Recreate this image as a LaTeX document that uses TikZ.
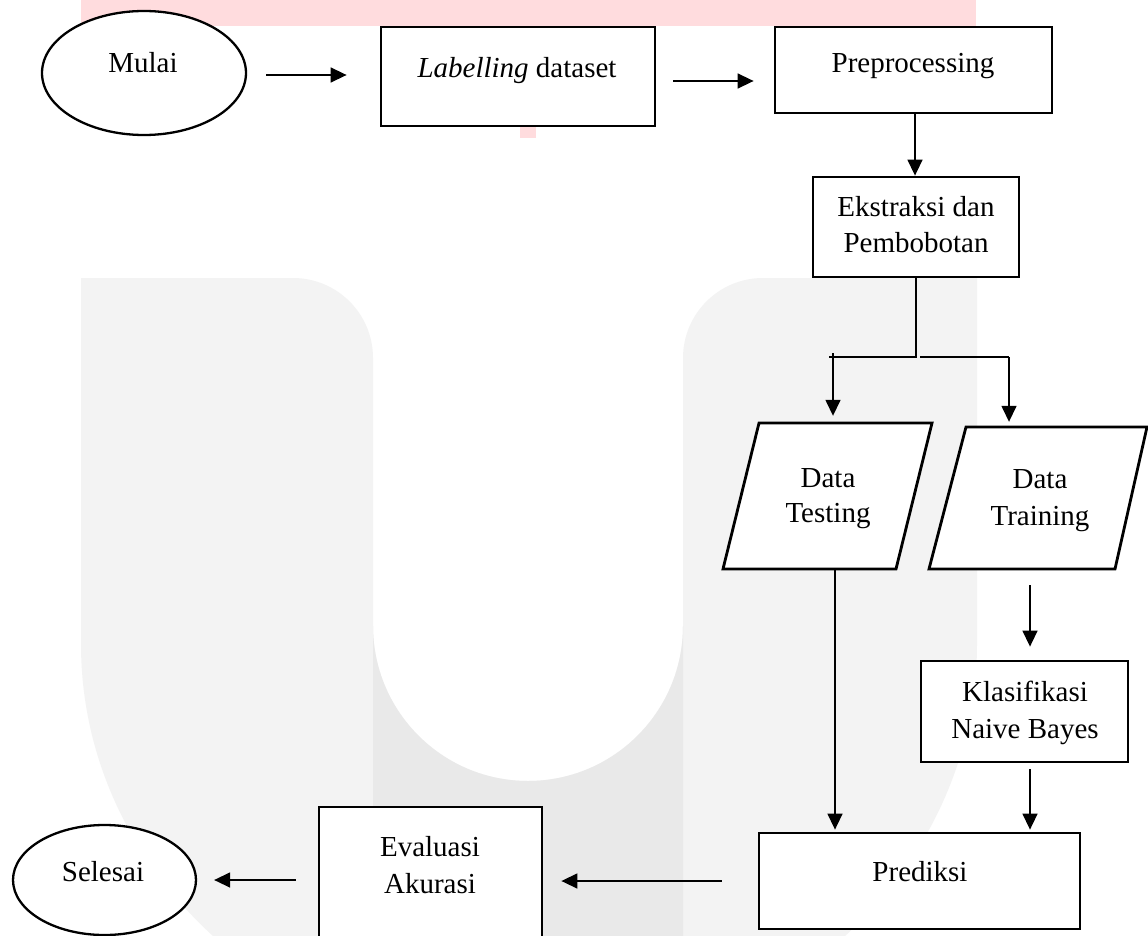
\documentclass[tikz,border=0pt]{standalone}
\usepackage{fontspec}
\setmainfont{Liberation Serif}
\usetikzlibrary{arrows.meta,shapes.geometric}
\definecolor{wmpink}{RGB}{255,220,222}
\definecolor{wmlight}{RGB}{243,243,243}
\definecolor{wmdark}{RGB}{233,233,233}
\begin{document}
\begin{tikzpicture}[x=1pt,y=-1pt,
  box/.style={draw,line width=2.8pt,fill=white,inner sep=0pt},
  oval/.style={ellipse,draw,line width=2.3pt,fill=white,inner sep=0pt},
  para/.style={draw,line width=2.8pt,fill=white,line join=miter},
  txt/.style={anchor=base,inner sep=0pt,font=\fontsize{29}{34}\selectfont},
  conn/.style={line width=1.5pt},
  arr/.style={conn,-{Triangle[length=16pt,width=15pt]}}]
\useasboundingbox (0,0) rectangle (1148,936);
\fill[white] (0,0) rectangle (1148,936);
% watermark
\fill[wmpink] (81,0) rectangle (976,26);
\fill[wmpink] (520,26) rectangle (536,138);
\fill[wmlight] (81,278) -- (293,278) arc[start angle=90,end angle=0,radius=80pt]
  -- (373,626) arc[start angle=180,end angle=360,radius=155pt]
  -- (683,358) arc[start angle=180,end angle=90,radius=80pt]
  -- (977,278) -- (977,644) arc[start angle=0,end angle=-180,x radius=448pt,y radius=412pt] -- cycle;
\begin{scope}
\clip (81,278) -- (977,278) -- (977,644) arc[start angle=0,end angle=-180,x radius=448pt,y radius=412pt] -- cycle;
\fill[wmdark] (373,626) arc[start angle=180,end angle=360,radius=155pt] -- (683,1000) -- (373,1000) -- cycle;
\end{scope}
% nodes
\node[oval,minimum width=204pt,minimum height=124pt] (mulai) at (144,73) {};
\node[txt] (tmulai) at (143,73) {Mulai};
\node[box,minimum width=274pt,minimum height=99pt] (lab) at (518,76.5) {};
\node[txt] (tlab) at (517,78) {\textit{Labelling} dataset};
\node[box,minimum width=277pt,minimum height=86pt] (pre) at (913.5,70) {};
\node[txt] (tpre) at (913,73) {Preprocessing};
\node[box,minimum width=206pt,minimum height=100pt] (eks) at (916,227) {};
\node[txt] (teks1) at (916,217) {Ekstraksi dan};
\node[txt] (teks2) at (916,252) {Pembobotan};
\node[inner sep=0pt,minimum width=209pt,minimum height=146pt] (test) at (827.5,496) {};
\draw[para] (759,423) -- (932,423) -- (896,569) -- (723,569) -- cycle;
\node[txt] (ttest1) at (828,487) {Data};
\node[txt] (ttest2) at (828,522) {Testing};
\node[inner sep=0pt,minimum width=218pt,minimum height=142pt] (train) at (1039,498) {};
\draw[para] (966,427) -- (1147,427) -- (1115,569) -- (929,569) -- cycle;
\node[txt] (ttrain1) at (1040,488) {Data};
\node[txt] (ttrain2) at (1040,525) {Training};
\node[box,minimum width=207pt,minimum height=101pt] (klas) at (1024.5,711.5) {};
\node[txt] (tklas1) at (1025,701) {Klasifikasi};
\node[txt] (tklas2) at (1025,738) {Naive Bayes};
\node[box,minimum width=321pt,minimum height=96pt] (pred) at (919.5,881) {};
\node[txt] (tpred) at (920,881) {Prediksi};
\node[box,minimum width=223pt,minimum height=146pt] (eval) at (430.5,880) {};
\node[txt] (teval1) at (430,856) {Evaluasi};
\node[txt] (teval2) at (430,893) {Akurasi};
\node[oval,minimum width=183pt,minimum height=110pt] (sel) at (104.5,880) {};
\node[txt] (tsel) at (103,881) {Selesai};
% connectors
\draw[arr,shorten <=19pt,shorten >=33pt] ([yshift=-2pt]mulai.east) -- ([yshift=-2pt]mulai.east -| lab.west);
\draw[arr,shorten <=17pt,shorten >=20pt] ([yshift=-4.5pt]lab.east) -- ([yshift=-4.5pt]lab.east -| pre.west);
\draw[arr] ([xshift=-1pt]eks.north |- pre.south) -- ([xshift=-1pt]eks.north);
\coordinate (br) at (916,357);
\coordinate (bl) at (833,357);
\coordinate (brr) at (1009,357);
\draw[conn] (eks.south) -- (br) -- ([xshift=-4pt]bl);
\draw[arr,shorten >=7pt] ([yshift=4pt]bl) -- (bl |- test.north);
\draw[conn] ([xshift=4pt]br) -- (brr);
\draw[arr,shorten >=5pt] (brr) -- (brr |- train.north);
\draw[arr,shorten >=2pt] ([xshift=7.5pt]test.south) -- ([xshift=7.5pt]test.south |- pred.north);
\draw[arr,shorten <=16pt,shorten >=13pt] ([xshift=5.5pt]klas.north |- train.south) -- ([xshift=5.5pt]klas.north);
\draw[arr,shorten <=6pt,shorten >=2pt] ([xshift=5.5pt]klas.south) -- ([xshift=5.5pt]klas.south |- pred.north);
\draw[arr,shorten <=36pt,shorten >=18pt] (pred.west) -- (pred.west -| eval.east);
\draw[arr,shorten <=22pt,shorten >=17pt] (eval.west |- sel.east) -- (sel.east);
\end{tikzpicture}
\end{document}
